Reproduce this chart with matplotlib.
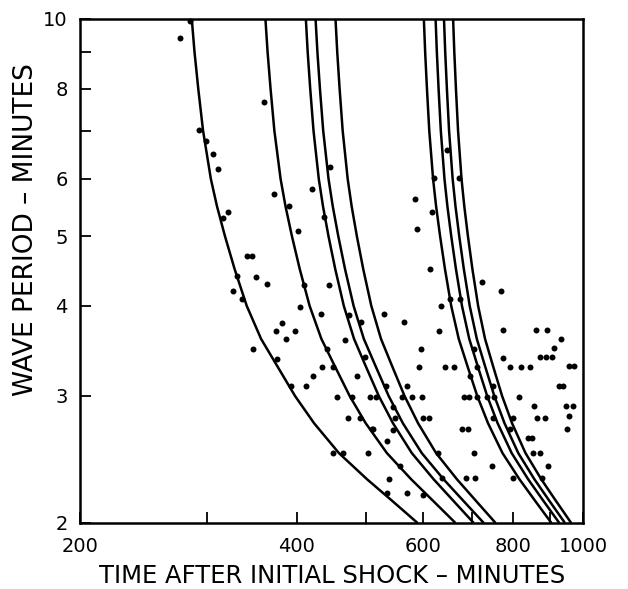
import matplotlib
matplotlib.use("Agg")
import matplotlib.pyplot as plt
from matplotlib.ticker import NullLocator

# wave period (minutes) at which each travel-time curve is sampled
period_grid = [10, 9, 8, 7, 6, 5.5, 5, 4.5, 4, 3.6, 3.3, 3, 2.75, 2.5, 2.3, 2.15, 2]

# arrival times (minutes after shock) along each curve
arrival_a = [286, 288.5, 292, 296.5, 304, 310, 318, 328, 341, 357, 376, 398, 423, 458, 501, 542, 589]
arrival_b = [362, 364.5, 368, 372.5, 380, 386, 394, 404, 417, 433, 452, 474, 499, 534, 577, 618, 665]
arrival_c = [412, 414.4, 417.8, 422.2, 429.4, 435.2, 442.9, 452.6, 465.2, 480.7, 499, 520.3, 544.5, 578.3, 620, 659.6, 705]
arrival_d = [425, 427.5, 431, 435.5, 443, 449, 457, 467, 480, 496, 515, 537, 562, 597, 640, 681, 728]
arrival_e = [453, 455.5, 459, 463.5, 471, 477, 485, 495, 508, 524, 543, 565, 590, 625, 668, 709, 756]
arrival_f = [601, 603.5, 607, 611.5, 619, 625, 633, 643, 656, 672, 691, 713, 738, 773, 816, 857, 904]
arrival_g = [624, 626.5, 630, 634.5, 642, 648, 656, 666, 679, 695, 714, 736, 761, 796, 839, 880, 927]
arrival_h = [641, 643.5, 647, 651.5, 659, 665, 673, 683, 696, 712, 731, 753, 778, 813, 856, 897, 944]
arrival_i = [660, 662.5, 666, 670.5, 678, 684, 692, 702, 715, 731, 750, 772, 797, 832, 875, 916, 963]

# observed waves: time after shock and period
obs_time = [275, 284, 360, 293, 299, 306, 311, 316, 321, 341, 347, 330, 351, 364, 326,
            336, 348, 374, 382, 387, 398, 376, 393, 412, 421, 404, 432, 372, 390, 402,
            420, 445, 437, 410, 444, 467, 441, 473, 492, 498, 434, 449, 485, 455, 477,
            506, 516, 471, 490, 509, 449, 464, 503, 584, 588, 647, 621, 672, 617, 613,
            724, 769, 653, 675, 635, 529, 564, 631, 774, 860, 891, 932, 596, 706, 911,
            774, 872, 889, 906, 592, 643, 662, 712, 792, 820, 844, 956, 971, 697, 533,
            569, 750, 926, 938, 560, 579, 597, 683, 694, 712, 736, 752, 815, 544, 855,
            947, 968, 548, 600, 611, 750, 800, 863, 886, 956, 511, 544, 679, 692, 792,
            950, 534, 839, 850, 629, 706, 852, 872, 557, 748, 894, 637, 688, 708, 800,
            877, 538, 570, 600, 534]
obs_period = [9.40, 9.93, 7.67, 7.01, 6.77, 6.50, 6.19, 5.30, 5.40, 4.69, 4.69, 4.40, 4.39, 4.29, 4.19,
              4.09, 3.49, 3.69, 3.79, 3.60, 3.69, 3.38, 3.10, 3.10, 3.20, 3.99, 3.90, 5.72, 5.50, 5.08,
              5.81, 6.23, 5.31, 4.28, 4.28, 3.59, 3.49, 3.89, 3.80, 3.40, 3.29, 3.29, 3.20, 2.99, 2.99,
              2.99, 2.99, 2.80, 2.80, 2.70, 2.50, 2.50, 2.50, 5.63, 5.11, 6.58, 6.02, 6.02, 5.40, 4.50,
              4.32, 4.19, 4.09, 4.09, 4.00, 3.90, 3.80, 3.69, 3.70, 3.70, 3.70, 3.60, 3.49, 3.49, 3.50,
              3.39, 3.40, 3.40, 3.40, 3.29, 3.29, 3.29, 3.29, 3.29, 3.29, 3.29, 3.30, 3.30, 3.20, 3.10,
              3.10, 3.10, 3.10, 3.10, 2.99, 2.99, 2.99, 2.99, 2.99, 2.99, 2.99, 2.99, 2.99, 2.90, 2.91,
              2.91, 2.91, 2.80, 2.80, 2.80, 2.80, 2.80, 2.80, 2.80, 2.81, 2.70, 2.69, 2.70, 2.70, 2.70,
              2.70, 2.60, 2.62, 2.62, 2.50, 2.50, 2.50, 2.50, 2.40, 2.40, 2.40, 2.31, 2.31, 2.31, 2.31,
              2.31, 2.30, 2.20, 2.19, 2.20]

x_ticks = [200, 300, 400, 500, 600, 700, 800, 900, 1000]
x_labels = ["200", "", "400", "", "600", "", "800", "", "1000"]
y_ticks = [2, 3, 4, 5, 6, 7, 8, 9, 10]
y_labels = ["2", "3", "4", "5", "6", "", "8", "", "10"]

plt.rcParams['font.family'] = ['DejaVu Sans']

W, H = 628, 589
fig = plt.figure(figsize=(W / 100, H / 100), dpi=100)
ax = fig.add_axes([0.1274, 0.1121, 0.8009, 0.8557])

for times in [arrival_a, arrival_b, arrival_c, arrival_d, arrival_e,
              arrival_f, arrival_g, arrival_h, arrival_i]:
    ax.plot(times, period_grid, color='black', lw=1.8, solid_capstyle='butt')

ax.plot(obs_time, obs_period, 'o', color='black', ms=4.3, mew=0, ls='none',
        clip_on=False)

ax.set_xscale('log')
ax.set_yscale('log')
ax.set_xlim(200, 1000)
ax.set_ylim(2, 10)

ax.xaxis.set_minor_locator(NullLocator())
ax.yaxis.set_minor_locator(NullLocator())
ax.set_xticks(x_ticks)
ax.set_xticklabels(x_labels)
ax.set_yticks(y_ticks)
ax.set_yticklabels(y_labels)

ax.tick_params(direction='in', length=8, width=1.3, labelsize=14, colors='black')
ax.tick_params(axis='x', pad=10)
ax.tick_params(axis='y', pad=9)
for spine in ax.spines.values():
    spine.set_linewidth(1.8)

# axis titles placed in figure pixels
fig.text(332 / W, 1 - 583 / H, "TIME AFTER INITIAL SHOCK \u2013 MINUTES",
         fontsize=17.5, ha='center', va='baseline')
fig.text(26 / W, 1 - 230 / H, "WAVE PERIOD \u2013 MINUTES",
         fontsize=19, rotation=90, ha='center', va='center')

fig.savefig("out.png", dpi=100)
